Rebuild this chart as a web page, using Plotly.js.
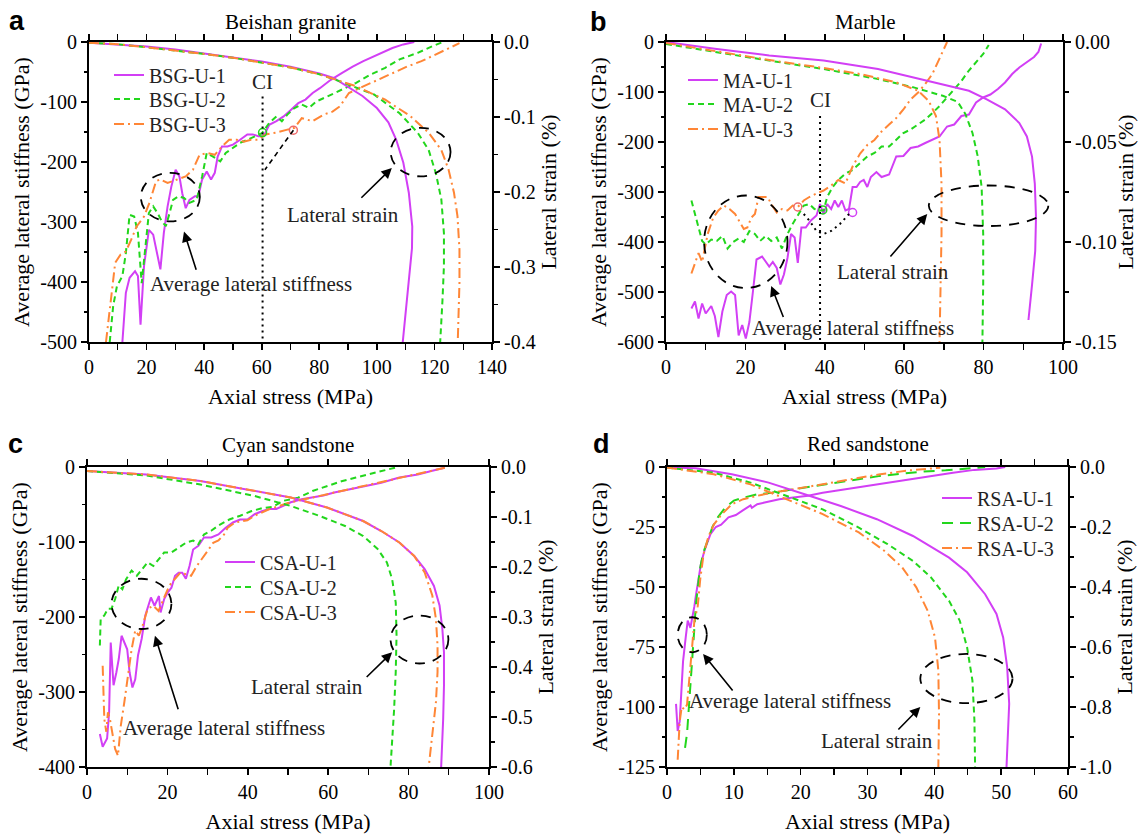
<!DOCTYPE html>
<html><head><meta charset="utf-8">
<script src="https://cdn.plot.ly/plotly-3.0.1.min.js"></script>
<style>html,body{margin:0;padding:0;background:#fff}#chart{width:1138px;height:835px}</style>
</head><body><div id="chart"></div>
<script>
// ---------------- DATA (axial stress MPa, stiffness GPa / lateral strain %) ----------------
// Panel a: Beishan granite
const bsgNames = ['BSG-U-1','BSG-U-2','BSG-U-3'];
const bsgStiff1 = [[11.6,-500],[12.8,-418],[14.1,-393],[16,-382],[17,-390],[17.9,-471],[19.1,-374],[20.8,-313],[22.3,-321],[23.6,-352],[24.8,-379],[26,-318],[27.3,-274],[28.6,-241],[30.1,-213],[31.4,-224],[32.4,-252],[33.6,-277],[34.9,-263],[36.8,-257],[38,-257],[39.3,-229],[40.9,-216],[42.4,-229],[43.7,-218],[44.7,-191],[46.2,-174],[48.1,-174],[50,-171],[52.5,-163],[55,-154],[56.9,-154],[58.8,-157],[60.7,-157],[62.6,-138],[65.1,-132],[67.6,-124],[70.2,-113],[72.7,-102],[75.2,-96],[77.7,-85],[80.2,-77],[84,-63],[87.8,-52],[91.6,-41],[95.3,-32],[100.4,-21],[105.4,-10],[109.2,-4],[113,0]];
const bsgStiff2 = [[7.2,-500],[8.4,-440],[9.7,-407],[11.6,-390],[12.8,-352],[14.1,-288],[15.7,-291],[17,-318],[18.3,-402],[19.5,-346],[20.8,-285],[22.3,-274],[23.8,-285],[25.3,-299],[26.7,-307],[28,-285],[29.2,-263],[31.1,-257],[33,-260],[34.9,-268],[37.4,-263],[39.3,-224],[40.9,-185],[43.1,-191],[45.6,-199],[47.5,-185],[50,-177],[52.5,-168],[55,-163],[57.6,-157],[60.1,-152],[62.6,-135],[65.1,-124],[67,-132],[68.9,-121],[71.4,-110],[73.9,-104],[76.4,-110],[79,-99],[82.7,-91],[87.8,-79],[92.8,-68],[97.9,-54],[102.9,-43],[107.9,-29],[114.2,-18],[119.3,-7],[123,0]];
const bsgStiff3 = [[5.9,-500],[7.2,-446],[9.1,-368],[11,-354],[12.8,-349],[14.7,-329],[16.6,-307],[19.1,-291],[21,-268],[23.3,-232],[24.8,-229],[27.3,-235],[30.5,-229],[33.6,-224],[36.1,-213],[38.4,-188],[41.2,-185],[43.7,-188],[46.2,-174],[48.7,-163],[51.3,-163],[53.8,-166],[56.3,-163],[58.8,-163],[61.3,-154],[65.1,-151],[68.9,-146],[71.4,-143],[73.9,-127],[77.7,-132],[81.5,-121],[84.6,-116],[87.2,-107],[90.3,-85],[95.3,-74],[100.4,-63],[105.4,-52],[110.5,-41],[115.5,-32],[120.5,-21],[125.5,-10],[128.7,-2]];
const bsgStrain1 = [[0,-0.001],[10,-0.003],[20,-0.006],[30,-0.010],[40,-0.015],[50,-0.020],[60,-0.026],[70,-0.033],[80,-0.042],[85,-0.048],[90,-0.060],[95,-0.072],[100,-0.088],[104,-0.107],[106.7,-0.130],[109.2,-0.161],[111.1,-0.201],[112.3,-0.246],[112.2,-0.275],[111.1,-0.321],[109.8,-0.366],[109,-0.4]];
const bsgStrain2 = [[0,-0.001],[10,-0.003],[20,-0.007],[30,-0.011],[40,-0.016],[50,-0.021],[60,-0.027],[70,-0.034],[80,-0.043],[89,-0.055],[99,-0.070],[107.9,-0.095],[114.2,-0.121],[118,-0.144],[120.5,-0.175],[122.4,-0.210],[123.3,-0.255],[123.3,-0.299],[122.8,-0.344],[122,-0.4]];
const bsgStrain3 = [[0,-0.001],[10,-0.003],[20,-0.007],[30,-0.011],[40,-0.016],[50,-0.021],[60,-0.027],[70,-0.034],[80,-0.043],[92.8,-0.059],[102.9,-0.077],[111.7,-0.099],[118,-0.121],[122.4,-0.144],[124.9,-0.170],[126.8,-0.201],[128,-0.232],[128.7,-0.277],[128.7,-0.321],[128.3,-0.366],[128.1,-0.4]];
const bsgCI = 60.3;
const bsgCIPoints = [[60.3,-151],[71,-147]];

// Panel b: Marble
const maNames = ['MA-U-1','MA-U-2','MA-U-3'];
const maStiff1 = [[6.4,-533],[7.3,-519],[8.2,-553],[9.1,-523],[10,-543],[11.4,-528],[12.3,-548],[13.2,-590],[14.2,-539],[15.3,-506],[16.4,-499],[17.4,-506],[18.3,-587],[19.2,-566],[20.1,-593],[21,-560],[21.9,-499],[22.8,-435],[24.2,-429],[25.1,-440],[26,-449],[26.9,-440],[27.9,-452],[28.8,-485],[29.7,-465],[30.6,-432],[31.5,-384],[32.4,-391],[33.2,-442],[34.1,-371],[35.2,-371],[36.5,-357],[37.9,-347],[38.8,-324],[39.7,-344],[40.6,-324],[41.6,-334],[42.5,-317],[43.4,-330],[44.3,-317],[45.2,-337],[46.1,-334],[47,-290],[48,-290],[48.9,-280],[49.8,-276],[50.7,-290],[51.6,-270],[53,-260],[54.3,-270],[56.2,-265],[58,-229],[59.8,-228],[61.6,-212],[63.5,-209],[65.3,-202],[67.1,-196],[68.9,-189],[70.8,-169],[72.6,-165],[74.4,-148],[76.3,-145],[78.1,-121],[79.9,-111],[81.7,-105],[83.6,-94],[85.4,-81],[87.2,-64],[89,-51],[90.9,-40],[92.7,-30],[93.8,-20],[94.5,-3]];
const maStiff2 = [[6.4,-317],[7.3,-344],[8.2,-371],[9.1,-398],[10,-405],[11.4,-395],[12.8,-398],[14.2,-388],[15.5,-413],[16.9,-400],[18.3,-393],[19.6,-400],[21,-378],[22.4,-384],[23.7,-398],[25.1,-388],[26.5,-398],[27.9,-391],[29.2,-413],[30.6,-384],[31.9,-364],[33.3,-344],[34.7,-327],[36.1,-324],[37.4,-334],[38.8,-337],[39.7,-337],[40.6,-310],[42,-290],[43.4,-276],[45.2,-263],[47,-256],[48.9,-243],[50.7,-229],[52.5,-222],[54.3,-209],[56.2,-209],[58,-196],[59.8,-182],[61.6,-175],[63.5,-165],[65.3,-155],[67.1,-142],[68.9,-128],[70.8,-111],[72.6,-94],[74.4,-78],[76.3,-57],[78.1,-40],[79.9,-24],[81.3,-6]];
const maStiff3 = [[6.4,-463],[7.3,-440],[8.2,-422],[9.1,-440],[10.5,-384],[11.9,-351],[13.2,-337],[14.6,-327],[16,-334],[17.4,-344],[18.7,-361],[19.6,-374],[20.5,-371],[21.5,-351],[22.4,-344],[23.3,-310],[24.2,-310],[25.6,-310],[26.5,-324],[27.9,-341],[29.2,-334],[30.6,-337],[31.9,-327],[33.2,-330],[34.7,-317],[36.1,-310],[37.9,-303],[39.7,-297],[41.6,-287],[43.4,-276],[45.2,-283],[47,-249],[48.9,-223],[50.7,-206],[52.5,-196],[54.3,-179],[56.2,-165],[58,-152],[59.8,-135],[61.6,-115],[63.5,-101],[65.3,-84],[67.1,-64],[68.5,-40],[69.9,-13],[70.8,0]];
const maStrain1 = [[0,0],[12.3,-0.0034],[26,-0.0067],[39.7,-0.0093],[53.4,-0.0135],[67.1,-0.0202],[76.3,-0.0244],[80.8,-0.0287],[85.4,-0.0337],[89,-0.0405],[90.9,-0.0472],[92.2,-0.0573],[92.9,-0.0708],[93.2,-0.0876],[93,-0.1045],[92.2,-0.1214],[91.3,-0.139]];
const maStrain2 = [[0,-0.001],[12.3,-0.005],[26,-0.0093],[39.7,-0.0135],[53.4,-0.0185],[62.6,-0.0228],[69.9,-0.027],[73.5,-0.030],[75.4,-0.036],[77.2,-0.0455],[78.5,-0.057],[79.5,-0.0725],[79.9,-0.096],[79.9,-0.121],[79.7,-0.15]];
const maStrain3 = [[0,-0.0005],[12.3,-0.0045],[26,-0.009],[39.7,-0.013],[48.9,-0.016],[58,-0.0202],[63.5,-0.0244],[66.2,-0.0295],[68,-0.037],[68.9,-0.049],[69.4,-0.071],[69.4,-0.096],[69.1,-0.121],[68.9,-0.15]];
const maCI = 38.8;
const maCIPoints = [[33.2,-330],[39.5,-336],[47,-341]];
const maCIPath = [[34.7,-344],[36.1,-357],[37.9,-378],[39.7,-384],[41.6,-378],[43.8,-364],[46.1,-344]];

// Panel c: Cyan sandstone
const csaNames = ['CSA-U-1','CSA-U-2','CSA-U-3'];
const csaStiff1 = [[3.2,-356],[3.9,-373],[5,-362],[5.5,-327],[5.9,-234],[6.6,-291],[7.3,-274],[7.9,-256],[8.6,-225],[9.3,-234],[10,-243],[10.6,-274],[11.3,-294],[12,-283],[12.7,-251],[13.6,-229],[14.5,-198],[15.9,-174],[16.8,-185],[17.9,-172],[18.3,-194],[19.2,-176],[20.1,-167],[21,-161],[21.9,-145],[22.8,-141],[23.7,-141],[24.6,-149],[25.5,-132],[26.4,-110],[27.7,-105],[29.1,-94],[30.9,-94],[32.7,-90],[34.5,-81],[36.3,-74],[38.1,-70],[39.9,-70],[41.7,-63],[43.5,-59],[45.3,-56],[47.1,-56],[48.9,-52],[50.7,-47],[53.4,-43],[56.1,-41],[58.8,-38],[61.5,-34],[65.1,-30],[68.7,-25],[73.2,-21],[77.7,-14],[82.3,-10],[85.9,-5],[89,-1]];
const csaStiff2 = [[3.2,-238],[3.4,-203],[4.3,-198],[5.2,-189],[6.1,-189],[7,-176],[7.9,-158],[8.8,-163],[9.7,-150],[11.1,-138],[12.4,-145],[13.8,-136],[15.1,-127],[16.5,-132],[17.8,-123],[19.2,-114],[21,-114],[22.8,-107],[24.6,-101],[26.4,-98],[27.7,-103],[29.1,-90],[30.9,-85],[32.7,-78],[35.4,-70],[38.1,-65],[40.8,-59],[43.5,-55],[46.2,-53],[48.9,-45],[52.5,-41],[56.1,-32],[59.7,-25],[63.3,-19],[66.9,-14],[70.5,-9],[74.1,-4],[77.3,0]];
const csaStiff3 = [[3.9,-265],[4.3,-336],[4.8,-353],[5.2,-327],[5.7,-336],[6.4,-360],[7,-376],[7.7,-385],[8.4,-345],[9.3,-313],[10.2,-274],[11.1,-243],[12,-218],[12.9,-225],[13.8,-212],[15.1,-189],[16.5,-185],[17.8,-192],[19.2,-174],[20.5,-158],[21.9,-149],[23.2,-141],[24.6,-143],[25.9,-145],[27.3,-132],[28.6,-123],[30,-112],[31.4,-101],[32.7,-98],[34.1,-90],[35,-81],[36.8,-74],[39.9,-71],[41.7,-65],[45,-57],[50,-48],[55,-42],[60,-36],[65,-30],[70,-24],[75,-18],[80,-12],[85,-6],[89,-1]];
const csaStrain1 = [[0,-0.008],[14.7,-0.015],[28.2,-0.028],[41.7,-0.048],[50.7,-0.061],[59.7,-0.081],[68.7,-0.108],[73.2,-0.128],[77.7,-0.151],[81.4,-0.178],[84,-0.204],[86.3,-0.238],[87.7,-0.277],[88.4,-0.324],[88.8,-0.371],[88.8,-0.437],[88.6,-0.504],[88.1,-0.6]];
const csaStrain2 = [[0,-0.008],[14.7,-0.017],[28.2,-0.035],[41.7,-0.058],[50.7,-0.078],[57.9,-0.098],[64.2,-0.118],[68.7,-0.138],[72.3,-0.164],[74.6,-0.191],[75.9,-0.224],[76.8,-0.271],[77,-0.337],[76.8,-0.41],[76.4,-0.484],[75.5,-0.6]];
const csaStrain3 = [[0,-0.008],[14.7,-0.015],[28.2,-0.028],[41.7,-0.048],[50.7,-0.061],[59.7,-0.081],[68.7,-0.108],[73.2,-0.128],[77.7,-0.151],[81.4,-0.178],[84,-0.211],[85.9,-0.257],[86.8,-0.304],[87.2,-0.357],[87.2,-0.41],[86.8,-0.47],[85.9,-0.537],[85,-0.6]];

// Panel d: Red sandstone
const rsaNames = ['RSA-U-1','RSA-U-2','RSA-U-3'];
const rsaStiff1 = [[1.35,-98.7],[1.6,-110],[1.9,-106],[2.2,-92],[2.4,-81],[2.8,-71],[3.1,-64],[3.5,-67],[3.8,-63],[4.1,-58],[4.3,-54],[4.8,-46],[5.1,-40],[5.7,-34],[6.5,-28],[7.3,-25],[8.1,-24],[9.2,-21],[10.3,-20],[11.4,-18],[12.5,-16],[12.7,-17],[13.5,-15.5],[14.6,-14.8],[16.8,-13.4],[18.9,-12.7],[21.1,-12],[23.3,-10.7],[26.5,-9.3],[29.8,-7.9],[33,-6.5],[36.3,-5.1],[39.5,-3.7],[42.8,-2.4],[46,-1.2],[49.3,-0.6],[50.6,0]];
const rsaStiff2 = [[2.7,-117],[3,-111],[3.2,-103],[3.5,-92],[3.8,-78],[4.1,-67],[4.3,-58],[4.6,-50],[4.9,-43],[5.4,-36],[6,-31],[6.8,-25],[7.6,-21],[8.7,-17],[10,-14],[11.4,-12.8],[13.5,-11.4],[15.7,-10.7],[18.9,-9.3],[22.2,-7.9],[25.4,-6.5],[28.7,-5.1],[31.9,-3.7],[35.2,-2.8],[38.4,-1.9],[41.7,-1.4],[44.9,-0.6],[47.6,0]];
const rsaStiff3 = [[1.6,-122],[1.9,-106],[2.2,-100],[2.6,-101],[3,-99],[3.4,-86],[3.7,-75],[4.1,-64],[4.6,-58],[5,-46],[5.5,-36],[6.2,-29],[7,-24],[8.1,-20],[9.7,-15.5],[11.4,-13.4],[13.5,-12],[15.7,-10.7],[18.9,-9.3],[23.3,-7.2],[27.6,-5.1],[31.9,-3],[36.3,-1.4],[39.5,-0.6],[40.9,-0.3]];
const rsaStrain1 = [[0,-0.002],[4.3,-0.004],[9.7,-0.024],[15.2,-0.052],[20.6,-0.091],[26,-0.13],[31.4,-0.174],[36.8,-0.23],[42.2,-0.302],[44.9,-0.351],[47.6,-0.424],[49.3,-0.49],[50.3,-0.568],[50.9,-0.667],[51.2,-0.789],[51,-0.9],[50.8,-1.0]];
const rsaStrain2 = [[0,-0.002],[7,-0.019],[12.5,-0.052],[17.9,-0.096],[23.3,-0.141],[28.7,-0.202],[33,-0.257],[36.8,-0.313],[39.5,-0.368],[42.2,-0.446],[43.8,-0.512],[44.9,-0.601],[45.7,-0.712],[46,-0.845],[46.1,-1.0]];
const rsaStrain3 = [[0,-0.002],[7,-0.024],[12.5,-0.058],[17.9,-0.108],[23.3,-0.157],[28.7,-0.218],[32.5,-0.279],[35.2,-0.335],[37.3,-0.401],[39,-0.479],[40.1,-0.568],[40.6,-0.678],[40.7,-0.823],[40.6,-1.0]];

// Axis ticks
const stressTicksA = [0,20,40,60,80,100,120,140];
const stressTicksB = [0,20,40,60,80,100];
const stressTicksC = [0,20,40,60,80,100];
const stressTicksD = [0,10,20,30,40,50,60];
const stiffTicksA = [0,-100,-200,-300,-400,-500];
const stiffTicksB = [0,-100,-200,-300,-400,-500,-600];
const stiffTicksC = [0,-100,-200,-300,-400];
const stiffTicksD = [0,-25,-50,-75,-100,-125];
const strainTicksA = [0,-0.1,-0.2,-0.3,-0.4];
const strainTicksB = [0,-0.05,-0.10,-0.15];
const strainTicksC = [0,-0.1,-0.2,-0.3,-0.4,-0.5,-0.6];
const strainTicksD = [0,-0.2,-0.4,-0.6,-0.8,-1.0];

// ---------------- STYLE ----------------
const W = 1138, H = 835;
const SERIF = 'Liberation Serif, Times New Roman, serif';
const COLORS = ['#d23ff5', '#22d61c', '#ff8636'];
const DASHES = ['solid', '6px,4px', '10px,4px,2px,4px'];
const px = v => v / W, py = v => 1 - v / H;
const X = p => p.map(d => d[0]), Y = p => p.map(d => d[1]);

const panels = [
  {x:'x', y:'y', y2:'y2', names:bsgNames, stiff:[bsgStiff1,bsgStiff2,bsgStiff3], strain:[bsgStrain1,bsgStrain2,bsgStrain3],
   dom:[[89,492],[42,342]], xr:[0,140], yr:[-500,0], y2r:[-0.4,0], xt:stressTicksA, yt:stiffTicksA, y2t:strainTicksA, xm:10, ym:50, y2m:0.05, y2dec:1,
   title:'Beishan granite', tpos:[290,22], letter:'a', lpos:[17,21], legText:151, legY:[75,99,124], dash2:DASHES[1]},
  {x:'x2', y:'y3', y2:'y4', names:maNames, stiff:[maStiff1,maStiff2,maStiff3], strain:[maStrain1,maStrain2,maStrain3],
   dom:[[666,1063],[42,342]], xr:[0,100], yr:[-600,0], y2r:[-0.15,0], xt:stressTicksB, yt:stiffTicksB, y2t:strainTicksB, xm:10, ym:50, y2m:0.025, y2dec:2,
   title:'Marble', tpos:[866,22], letter:'b', lpos:[598,22], legText:725, legY:[80,104,129], dash2:DASHES[1]},
  {x:'x3', y:'y5', y2:'y6', names:csaNames, stiff:[csaStiff1,csaStiff2,csaStiff3], strain:[csaStrain1,csaStrain2,csaStrain3],
   dom:[[87,489],[467,767]], xr:[0,100], yr:[-400,0], y2r:[-0.6,0], xt:stressTicksC, yt:stiffTicksC, y2t:strainTicksC, xm:10, ym:50, y2m:0.05, y2dec:1,
   title:'Cyan sandstone', tpos:[288,445], letter:'c', lpos:[15,444], legText:262, legY:[562,587,612], dash2:DASHES[1]},
  {x:'x4', y:'y7', y2:'y8', names:rsaNames, stiff:[rsaStiff1,rsaStiff2,rsaStiff3], strain:[rsaStrain1,rsaStrain2,rsaStrain3],
   dom:[[667,1068],[467,767]], xr:[0,60], yr:[-125,0], y2r:[-1,0], xt:stressTicksD, yt:stiffTicksD, y2t:strainTicksD, xm:5, ym:12.5, y2m:0.1, y2dec:1,
   title:'Red sandstone', tpos:[868,444], letter:'d', lpos:[601,444], legText:979, legY:[498,523,548], dash2:'11px,7px'}
];

const legendKey = n => n === 0 ? 'legend' : 'legend' + (n + 1);

const traces = [];
panels.forEach((p, pi) => {
  for (let i = 0; i < 3; i++) {
    const dash = i === 1 ? p.dash2 : DASHES[i];
    traces.push({type:'scatter', mode:'lines', x:X(p.stiff[i]), y:Y(p.stiff[i]), xaxis:p.x, yaxis:p.y,
      name:p.names[i], legend:legendKey(pi*3 + i), line:{color:COLORS[i], width:2, dash:dash}, hoverinfo:'skip'});
  }
  for (let i = 0; i < 3; i++) {
    traces.push({type:'scatter', mode:'lines', x:X(p.strain[i]), y:Y(p.strain[i]), xaxis:p.x, yaxis:p.y2,
      showlegend:false, line:{color:COLORS[i], width:2, dash:DASHES[i]}, hoverinfo:'skip'});
  }
});

// CI markers
traces.push({type:'scatter', mode:'markers', x:X(bsgCIPoints), y:Y(bsgCIPoints), xaxis:'x', yaxis:'y', showlegend:false,
  marker:{symbol:'circle-open', size:8, color:[COLORS[1], '#f06a6a'], line:{width:1.5}}});
traces.push({type:'scatter', mode:'lines', x:[bsgCIPoints[1][0], 61.1], y:[bsgCIPoints[1][1], -213], xaxis:'x', yaxis:'y', showlegend:false,
  line:{color:'#000', width:1.6, dash:'5px,4px'}});
traces.push({type:'scatter', mode:'markers', x:X(maCIPoints), y:Y(maCIPoints), xaxis:'x2', yaxis:'y3', showlegend:false,
  marker:{symbol:'circle-open', size:8, color:['#f06a6a', COLORS[1], COLORS[0]], line:{width:1.5}}});
traces.push({type:'scatter', mode:'lines', x:X(maCIPath), y:Y(maCIPath), xaxis:'x2', yaxis:'y3', showlegend:false,
  line:{color:'#000', width:2, dash:'2px,4px'}});

function minorVals(range, step) {
  const out = []; const n = Math.round((range[1]-range[0])/step);
  for (let k = 0; k <= n; k++) out.push(range[0] + k*step);
  return out;
}
function fmt(v, dec) { return v.toFixed(dec); }

const layout = {
  width:W, height:H, margin:{l:0,r:0,t:0,b:0}, paper_bgcolor:'#fff', plot_bgcolor:'#fff',
  font:{family:SERIF, size:20, color:'#000'}, showlegend:true,
  shapes:[], annotations:[]
};

const tickFont = {family:SERIF, size:20, color:'#000'};
const titleFont = {family:SERIF, size:22, color:'#000'};
const headFont = {family:SERIF, size:21, color:'#000'};
const minorStyle = {ticks:'outside', ticklen:3.5, tickwidth:1.4, tickcolor:'#000', showgrid:false};

panels.forEach((p, idx) => {
  const xk = 'xaxis' + (idx === 0 ? '' : idx + 1);
  const yk = 'yaxis' + (p.y === 'y' ? '' : p.y.slice(1));
  const y2k = 'yaxis' + p.y2.slice(1);
  const xd = [px(p.dom[0][0]), px(p.dom[0][1])];
  const yd = [py(p.dom[1][1]), py(p.dom[1][0])];
  layout[xk] = {domain:xd, anchor:p.y, range:p.xr, showline:true, linewidth:2, linecolor:'#000', mirror:'allticks',
    showgrid:false, zeroline:false, ticks:'outside', ticklen:6, tickwidth:1.6, tickcolor:'#000',
    tickmode:'array', tickvals:p.xt, ticktext:p.xt.map(v => fmt(v,0)), tickfont:tickFont,
    minor:Object.assign({tickmode:'array', tickvals:minorVals(p.xr, p.xm)}, minorStyle),
    title:{text:'Axial stress (MPa)', font:titleFont, standoff:12}};
  layout[yk] = {domain:yd, anchor:p.x, range:p.yr, showline:true, linewidth:2, linecolor:'#000',
    showgrid:false, zeroline:false, ticks:'outside', ticklen:6, tickwidth:1.6, tickcolor:'#000',
    tickmode:'array', tickvals:p.yt, ticktext:p.yt.map(v => fmt(v,0)), tickfont:tickFont,
    minor:Object.assign({tickmode:'array', tickvals:minorVals(p.yr, p.ym)}, minorStyle),
    title:{text:'Average lateral stiffness (GPa)', font:titleFont, standoff:5}};
  layout[y2k] = {domain:yd, anchor:p.x, overlaying:p.y, side:'right', range:p.y2r, showline:true, linewidth:2, linecolor:'#000',
    showgrid:false, zeroline:false, ticks:'outside', ticklen:6, tickwidth:1.6, tickcolor:'#000',
    tickmode:'array', tickvals:p.y2t, ticktext:p.y2t.map(v => fmt(v,p.y2dec)), tickfont:tickFont,
    minor:Object.assign({tickmode:'array', tickvals:minorVals(p.y2r, p.y2m)}, minorStyle),
    title:{text:'Lateral strain (%)', font:titleFont, standoff:6}};
  for (let i = 0; i < 3; i++) {
    layout[legendKey(idx*3 + i)] = {x:px(p.legText - 42), y:py(p.legY[i]), xanchor:'left', yanchor:'middle',
      bgcolor:'rgba(0,0,0,0)', font:{family:SERIF, size:20, color:'#222'}, itemwidth:30};
  }
  layout.annotations.push({xref:'paper', yref:'paper', x:px(p.tpos[0]), y:py(p.tpos[1]), text:p.title, showarrow:false,
    font:headFont, xanchor:'center', yanchor:'middle'});
  layout.annotations.push({xref:'paper', yref:'paper', x:px(p.lpos[0]), y:py(p.lpos[1]), text:'<b>' + p.letter + '</b>', showarrow:false,
    font:{family:'Liberation Sans, Arial, sans-serif', size:27, color:'#000'}, xanchor:'center', yanchor:'middle'});
});

// Ellipses, arrows, labels (in each panel's stiffness coordinates)
const ann = [
  {x:'x', y:'y', e1:[18,38.5,-218,-299], e2:[104.8,125.6,-143,-224], a1:[33,-316,37.4,-382], t1:[56.3,-404], a2:[105.2,-210,94.1,-262], t2:[88.4,-289]},
  {x:'x2', y:'y3', e1:[9.6,30.6,-307,-492], e2:[66.2,96.3,-287,-368], a1:[26.5,-488,29.7,-553], t1:[47,-572], a2:[65.8,-344,56.2,-432], t2:[57.1,-459]},
  {x:'x3', y:'y5', e1:[6.1,21,-149,-216], e2:[75.5,89.9,-198,-262], a1:[16.9,-225,22.8,-325], t1:[34.1,-348], a2:[75.9,-247,69.2,-282], t2:[54.8,-293]},
  {x:'x4', y:'y7', e1:[1.6,5.96,-62.6,-77.2], e2:[37.9,51.7,-77.9,-98.4], a1:[5.4,-77.9,10,-93.8], t1:[18.4,-97.7], a2:[37.9,-100,34.4,-110], t2:[31.4,-114.3]}
];
ann.forEach(a => {
  [a.e1, a.e2].forEach(e => layout.shapes.push({type:'circle', xref:a.x, yref:a.y, x0:e[0], x1:e[1], y0:e[2], y1:e[3],
    line:{color:'#000', width:1.8, dash:'10px,8px'}}));
  [a.a1, a.a2].forEach(r => layout.annotations.push({xref:a.x, yref:a.y, axref:a.x, ayref:a.y, x:r[0], y:r[1], ax:r[2], ay:r[3],
    text:'', showarrow:true, arrowhead:2, arrowsize:1.3, arrowwidth:1.6, arrowcolor:'#000'}));
  layout.annotations.push({xref:a.x, yref:a.y, x:a.t1[0], y:a.t1[1], text:'Average lateral stiffness', showarrow:false,
    font:{family:SERIF, size:21, color:'#222'}, xanchor:'center', yanchor:'middle'});
  layout.annotations.push({xref:a.x, yref:a.y, x:a.t2[0], y:a.t2[1], text:'Lateral strain', showarrow:false,
    font:{family:SERIF, size:21, color:'#222'}, xanchor:'center', yanchor:'middle'});
});

// CI lines and labels
layout.shapes.push({type:'line', xref:'x', yref:'y', x0:bsgCI, x1:bsgCI, y0:-91, y1:-500, line:{color:'#000', width:2, dash:'2px,4px'}});
layout.annotations.push({xref:'x', yref:'y', x:bsgCI, y:-66, text:'CI', showarrow:false, font:{family:SERIF, size:21, color:'#222'}});
layout.shapes.push({type:'line', xref:'x2', yref:'y3', x0:maCI, x1:maCI, y0:-148, y1:-600, line:{color:'#000', width:2, dash:'2px,4px'}});
layout.annotations.push({xref:'x2', yref:'y3', x:maCI, y:-115, text:'CI', showarrow:false, font:{family:SERIF, size:21, color:'#222'}});

Plotly.newPlot('chart', traces, layout, {displayModeBar:false, staticPlot:true});
</script></body></html>
